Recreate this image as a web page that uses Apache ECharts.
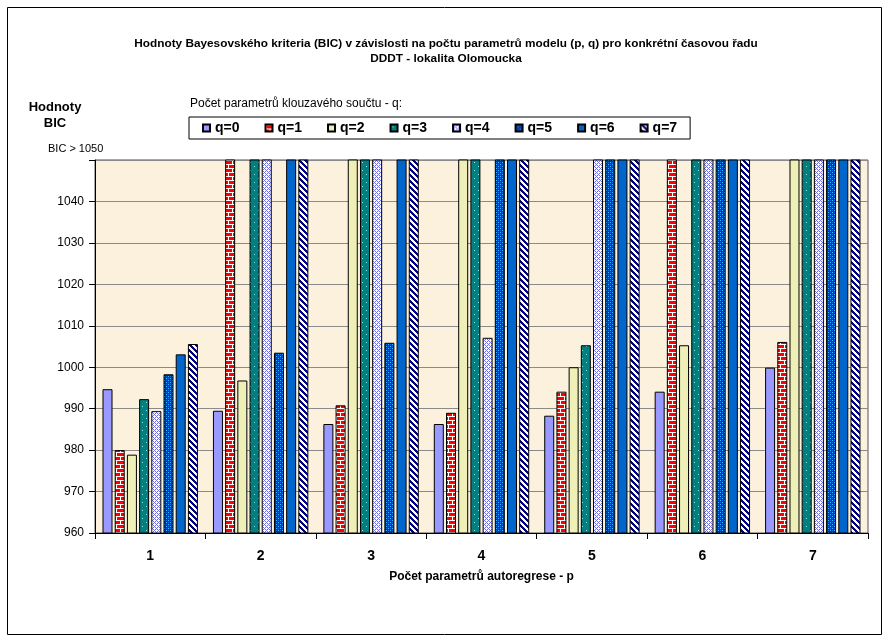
<!DOCTYPE html>
<html><head><meta charset="utf-8">
<script src="https://cdn.jsdelivr.net/npm/echarts/dist/echarts.min.js"></script>
<style>html,body{margin:0;padding:0;background:#fff}#c{width:890px;height:637px}</style>
</head><body><div id="c"></div>
<script>
// ---- data ----
const categories = ['1', '2', '3', '4', '5', '6', '7'];
const seriesNames = ['q=0', 'q=1', 'q=2', 'q=3', 'q=4', 'q=5', 'q=6', 'q=7'];
const yMin = 960, yMax = 1050, yStep = 10;
const HI = 1051; // bars reaching past the top: BIC > 1050
const q0 = [994.7, 989.5, 986.3, 986.3, 988.3, 994.1, 999.9];
const q1 = [980.0, HI, 990.8, 989.0, 994.1, HI, 1006.1];
const q2 = [978.9, 996.8, HI, HI, 1000.0, 1005.3, HI];
const q3 = [992.3, HI, HI, HI, 1005.3, HI, HI];
const q4 = [989.4, HI, HI, 1007.1, HI, HI, HI];
const q5 = [998.3, 1003.5, 1005.9, HI, HI, HI, HI];
const q6 = [1003.1, HI, HI, HI, HI, HI, HI];
const q7 = [1005.6, HI, HI, HI, HI, HI, HI];
const seriesValues = [q0, q1, q2, q3, q4, q5, q6, q7];

const titleLine1 = 'Hodnoty Bayesovského kriteria (BIC) v závislosti na počtu parametrů modelu (p, q) pro konkrétní časovou řadu';
const titleLine2 = 'DDDT - lokalita Olomoucka';
const yTitle = 'Hodnoty\nBIC';
const legendTitle = 'Počet parametrů klouzavého součtu - q:';
const xTitle = 'Počet parametrů autoregrese - p';
const topLabel = 'BIC > 1050';

// ---- patterns ----
function pat(w, h, bg, fn) {
  const c = document.createElement('canvas');
  c.width = w; c.height = h;
  const ctx = c.getContext('2d');
  ctx.fillStyle = bg; ctx.fillRect(0, 0, w, h);
  for (let y = 0; y < h; y++) for (let x = 0; x < w; x++) {
    const col = fn(x, y);
    if (col) { ctx.fillStyle = col; ctx.fillRect(x, y, 1, 1); }
  }
  return { image: c, repeat: 'repeat' };
}
const brick = pat(8, 8, '#FF0000', (x, y) => (y === 0 || y === 4 || (x === 0 && y < 4) || (x === 4 && y > 4)) ? '#FFFFFF' : null);
const dots = pat(8, 8, '#008080', (x, y) => ((x === 2 && y === 2) || (x === 6 && y === 6)) ? '#9fe0e0' : null);
const diamond = pat(4, 4, '#FFFFFF', (x, y) => ((x + y) % 4 === 0 || ((x - y + 4) % 4) === 0) ? '#6a6aff' : null);
const dense = pat(4, 4, '#0a2a9a', (x, y) => (x === 0 && y === 0) || (x === 2 && y === 2) ? '#22c8ff' : ((x === 2 && y === 0) || (x === 0 && y === 2) ? '#1060ff' : null));
const stripes = pat(6, 6, '#FFFFFF', (x, y) => (((x - y) % 6 + 6) % 6 < 3) ? '#000080' : null);
const colors = ['#9999FF', brick, '#EFEFB8', dots, diamond, dense, '#0066CC', stripes];

const FONT = '"Liberation Sans", Arial, sans-serif';

const series = seriesNames.map((n, i) => ({
  name: n,
  type: 'bar',
  data: seriesValues[i],
  barWidth: 10,
  barGap: '22%',
  clip: true,
  itemStyle: { color: colors[i], borderColor: '#000', borderWidth: 1 }
}));

const chart = echarts.init(document.getElementById('c'), null, { renderer: 'canvas' });
chart.setOption({
  animation: false,
  backgroundColor: '#fff',
  title: [
    { text: titleLine1, left: 446, textAlign: 'center', top: 38, padding: 0,
      textStyle: { fontFamily: FONT, fontSize: 11.8, fontWeight: 'bold', color: '#000' } },
    { text: titleLine2, left: 446, textAlign: 'center', top: 53, padding: 0,
      textStyle: { fontFamily: FONT, fontSize: 11.8, fontWeight: 'bold', color: '#000' } },
    { text: yTitle, left: 55, textAlign: 'center', top: 99, padding: 0,
      textStyle: { fontFamily: FONT, fontSize: 13, fontWeight: 'bold', color: '#000', lineHeight: 16 } }
  ],
  graphic: [
    { type: 'rect', shape: { x: 7.5, y: 7.5, width: 874, height: 627 }, style: { fill: 'none', stroke: '#000', lineWidth: 1 }, silent: true, z: -1 },
    { type: 'text', left: 190, top: 98, style: { text: legendTitle, font: '12px ' + FONT, fill: '#000' } },
    { type: 'text', left: 48, top: 143, style: { text: topLabel, font: '11px ' + FONT, fill: '#000' } }
  ],
  legend: {
    left: 189, top: 117,
    padding: [4, 13, 4, 13],
    borderColor: '#000', borderWidth: 1,
    icon: 'rect',
    itemWidth: 7, itemHeight: 7, itemGap: 25,
    textStyle: { fontFamily: FONT, fontSize: 14, fontWeight: 'bold', color: '#000' },
    data: seriesNames
  },
  grid: { left: 95, right: 22, top: 160, bottom: 104, show: true, backgroundColor: '#FBF1DC', borderColor: '#555', borderWidth: 1 },
  xAxis: {
    type: 'category', data: categories,
    axisLine: { lineStyle: { color: '#000' } },
    axisTick: { show: true, length: 6, lineStyle: { color: '#000' } },
    axisLabel: { fontFamily: FONT, fontSize: 14, fontWeight: 'bold', color: '#000', margin: 16 },
    name: xTitle, nameLocation: 'middle', nameGap: 38,
    nameTextStyle: { fontFamily: FONT, fontSize: 12, fontWeight: 'bold', color: '#000' }
  },
  yAxis: {
    type: 'value', min: yMin, max: yMax, interval: yStep,
    axisLine: { show: true, lineStyle: { color: '#000' } },
    axisTick: { show: true, length: 6, lineStyle: { color: '#000' } },
    axisLabel: { fontFamily: FONT, fontSize: 12, color: '#000', margin: 11,
      formatter: v => (v >= yMax ? '' : String(v)) },
    splitLine: { lineStyle: { color: '#8a8a8a' } }
  },
  series: series
});
</script></body></html>
